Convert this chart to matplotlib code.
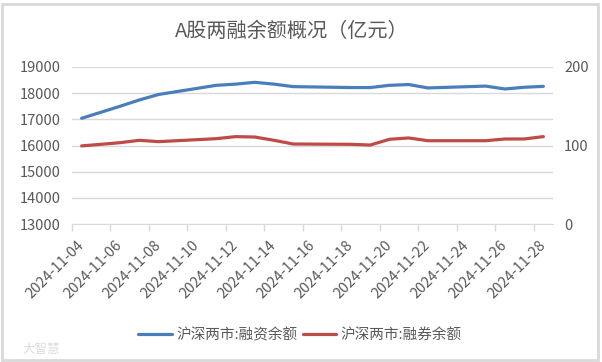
import numpy as np
import pandas as pd
import matplotlib
matplotlib.use('Agg')
import matplotlib.pyplot as plt
import matplotlib.dates as mdates
import matplotlib.patches as mpatches
import matplotlib.transforms as mtransforms

plt.rcParams['font.family'] = ['Noto Sans CJK SC', 'DejaVu Sans']

# -- Data --
dates = ['2024-11-04', '2024-11-05', '2024-11-06', '2024-11-07', '2024-11-08',
         '2024-11-11', '2024-11-12', '2024-11-13', '2024-11-14', '2024-11-15',
         '2024-11-18', '2024-11-19', '2024-11-20', '2024-11-21', '2024-11-22',
         '2024-11-25', '2024-11-26', '2024-11-27', '2024-11-28']
financing = [17040, 17270, 17500, 17740, 17950,
             18300, 18345, 18415, 18345, 18250,
             18215, 18215, 18300, 18330, 18200,
             18270, 18160, 18225, 18260]
securities = [99.5, 101.5, 103.6, 106.6, 104.9,
              108.7, 111.3, 110.8, 106.6, 101.9,
              101.5, 100.6, 107.9, 109.6, 106.1,
              106.1, 108.3, 108.3, 111.3]
seriesNames = ['沪深两市:融资余额', '沪深两市:融券余额']
tickDates = pd.date_range('2024-11-04', '2024-11-28', freq='2D')

colorFin = '#4a7ebb'
colorSec = '#be4b48'
gridColor = '#d9d9d9'
textColor = '#595959'

xDates = pd.to_datetime(dates) + pd.Timedelta(hours=12)

fig = plt.figure(figsize=(6.02, 3.62), dpi=100)
ax = fig.add_axes([72/602, 1-224/362, (553-72)/602, (224-67)/362])
ax2 = ax.twinx()

l1, = ax.plot(xDates, financing, color=colorFin, lw=2.3, solid_capstyle='round')
l2, = ax2.plot(xDates, securities, color=colorSec, lw=2.3, solid_capstyle='round')

ax.set_ylim(13000, 19000)
ax.set_yticks(np.arange(13000, 19001, 1000))
ax2.set_ylim(0, 200)
ax2.set_yticks([0, 100, 200])
ax.set_xlim(pd.Timestamp('2024-11-04'), pd.Timestamp('2024-11-29'))

ax.grid(axis='y', color=gridColor, lw=1)
ax.set_axisbelow(True)
for a in (ax, ax2):
    for side in ['top', 'left', 'right']:
        a.spines[side].set_visible(False)
    a.spines['bottom'].set_color(gridColor)
ax2.spines['bottom'].set_visible(False)

# major ticks at day boundaries (marks only), labels under day centres
ax.set_xticks(tickDates)
ax.set_xticklabels([])
ax.tick_params(axis='x', which='major', length=5, color=gridColor, width=1)
ax.set_xticks(tickDates + pd.Timedelta(hours=12), minor=True)
ax.set_xticklabels([d.strftime('%Y-%m-%d') for d in tickDates], minor=True,
                   rotation=45, ha='right', va='center', rotation_mode='anchor',
                   fontsize=10.5, color=textColor)
ax.tick_params(axis='x', which='minor', length=0, pad=14)

ax.tick_params(axis='y', length=0, pad=8, labelsize=10.5, labelcolor=textColor)
ax2.tick_params(axis='y', length=0, pad=8, labelsize=10.5, labelcolor=textColor)

fig.text(292/602, 1-31/362, 'A股两融余额概况（亿元）', ha='center', va='center',
         fontsize=14.5, color=textColor)

fig.legend([l1, l2], seriesNames, loc='center', bbox_to_anchor=(300/602, 1-335/362),
           ncol=2, frameon=False, fontsize=10.5, handlelength=2.3, handletextpad=0.3,
           columnspacing=0.4, labelcolor=textColor)

fig.text(22/602, 1-350/362, '大智慧', ha='left', va='center', fontsize=9,
         color='#dddddd')

fig.patches.append(mpatches.Rectangle((1.5/602, 2/362), 596/602, 356/362,
                                      transform=fig.transFigure, fill=False,
                                      edgecolor='#d9d9d9', lw=2))

fig.savefig('out.png', dpi=100)
